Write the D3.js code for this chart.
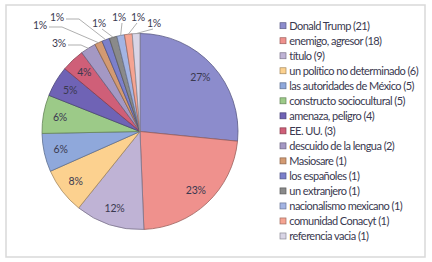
<!DOCTYPE html>
<html><head><meta charset="utf-8">
<script src="https://cdn.jsdelivr.net/npm/d3@7"></script>
<style>body{margin:0;background:#fff}svg{display:block}</style>
</head><body>
<script>
const categories = ["Donald Trump","enemigo, agresor","título","un político no determinado","las autoridades de México","constructo sociocultural","amenaza, peligro","EE. UU.","descuido de la lengua","Masiosare","los españoles","un extranjero","nacionalismo mexicano","comunidad Conacyt","referencia vacia"];
const counts = [21,18,9,6,5,5,4,3,2,1,1,1,1,1,1];
const pctLabels = ["27%","23%","12%","8%","6%","6%","5%","4%","3%","1%","1%","1%","1%","1%","1%"];
const colors = ["#8c8ccc","#ef918d","#bfb3d5","#fcd18f","#8fa8db","#9cca88","#6f63b5","#cf5f78","#a498c4","#d39a72","#7c80cb","#8a8a8a","#a3b4e3","#f5a492","#d9d5e6"];
const outsideLabelPos = {8:[59,43],9:[40,25],10:[57,17],11:[99,23],12:[119,17],13:[138,17],14:[154,23]};

const W=432,H=262;
const svg=d3.select("body").append("svg").attr("width",W).attr("height",H);
svg.append("rect").attr("x",6).attr("y",5).attr("width",419).attr("height",252)
  .attr("fill","#fff").attr("stroke","#d9d9d9").attr("stroke-width",1.5);

const cx=140, cy=131.5, R=98;
const pie=d3.pie().sort(null).value(d=>d)(counts);
const arc=d3.arc().innerRadius(0).outerRadius(R);
const g=svg.append("g").attr("transform",`translate(${cx},${cy})`);
g.selectAll("path").data(pie).join("path")
  .attr("d",arc).attr("fill",(d,i)=>colors[i])
  .attr("stroke",(d,i)=>d3.color(colors[i]).darker(1.2)).attr("stroke-width",0.8);

const font="Lato, 'Open Sans', sans-serif";
const txtColor="#3a3950";
const labArc=d3.arc().innerRadius(R*0.83).outerRadius(R*0.83);
pie.forEach((d,i)=>{
  if(outsideLabelPos[i]) return;
  const [x,y]=labArc.centroid(d);
  g.append("text").attr("x",x).attr("y",y).attr("text-anchor","middle").attr("dy","0.35em")
    .attr("font-family",font).attr("font-size",10.5).attr("letter-spacing",-0.2).attr("fill",txtColor).text(pctLabels[i]);
});
pie.forEach((d,i)=>{
  const p=outsideLabelPos[i]; if(!p) return;
  const a=(d.startAngle+d.endAngle)/2;
  const ex=cx+Math.sin(a)*R, ey=cy-Math.cos(a)*R;
  const [lx,ly]=p;
  let pts;
  if(lx<80){ pts=[[lx+9,ly+2],[lx+22,ly+2],[ex,ey]]; }
  else { pts=[[lx+(ex>lx?3:-1),ly+6],[ex,ey]]; }
  svg.append("path").attr("d",d3.line()(pts)).attr("fill","none").attr("stroke","#a6a6a6").attr("stroke-width",0.9);
  svg.append("text").attr("x",lx).attr("y",ly).attr("text-anchor","middle").attr("dy","0.35em")
    .attr("font-family",font).attr("font-size",10.5).attr("letter-spacing",-0.2).attr("fill",txtColor).text(pctLabels[i]);
});

// legend
const lx0=280, ly0=25.7, step=15.02;
const leg=svg.append("g");
const lfs=11;
const probe=leg.append("text").attr("font-family",font).attr("font-size",lfs).text(`${categories[3]} (${counts[3]})`);
const wl=probe.node().getComputedTextLength();
const nch=`${categories[3]} (${counts[3]})`.length;
const ls=Math.max(-0.6,(129-wl)/nch);
probe.remove();
categories.forEach((c,i)=>{
  const y=ly0+i*step;
  leg.append("rect").attr("x",lx0).attr("y",y-3).attr("width",6).attr("height",6)
    .attr("fill",colors[i]).attr("stroke",d3.color(colors[i]).darker(1.2)).attr("stroke-width",0.7);
  leg.append("text").attr("x",lx0+9.3).attr("y",y).attr("dy","0.35em")
    .attr("font-family",font).attr("font-size",lfs).attr("letter-spacing",ls).attr("fill",txtColor).text(`${c} (${counts[i]})`);
});
</script>
</body></html>
